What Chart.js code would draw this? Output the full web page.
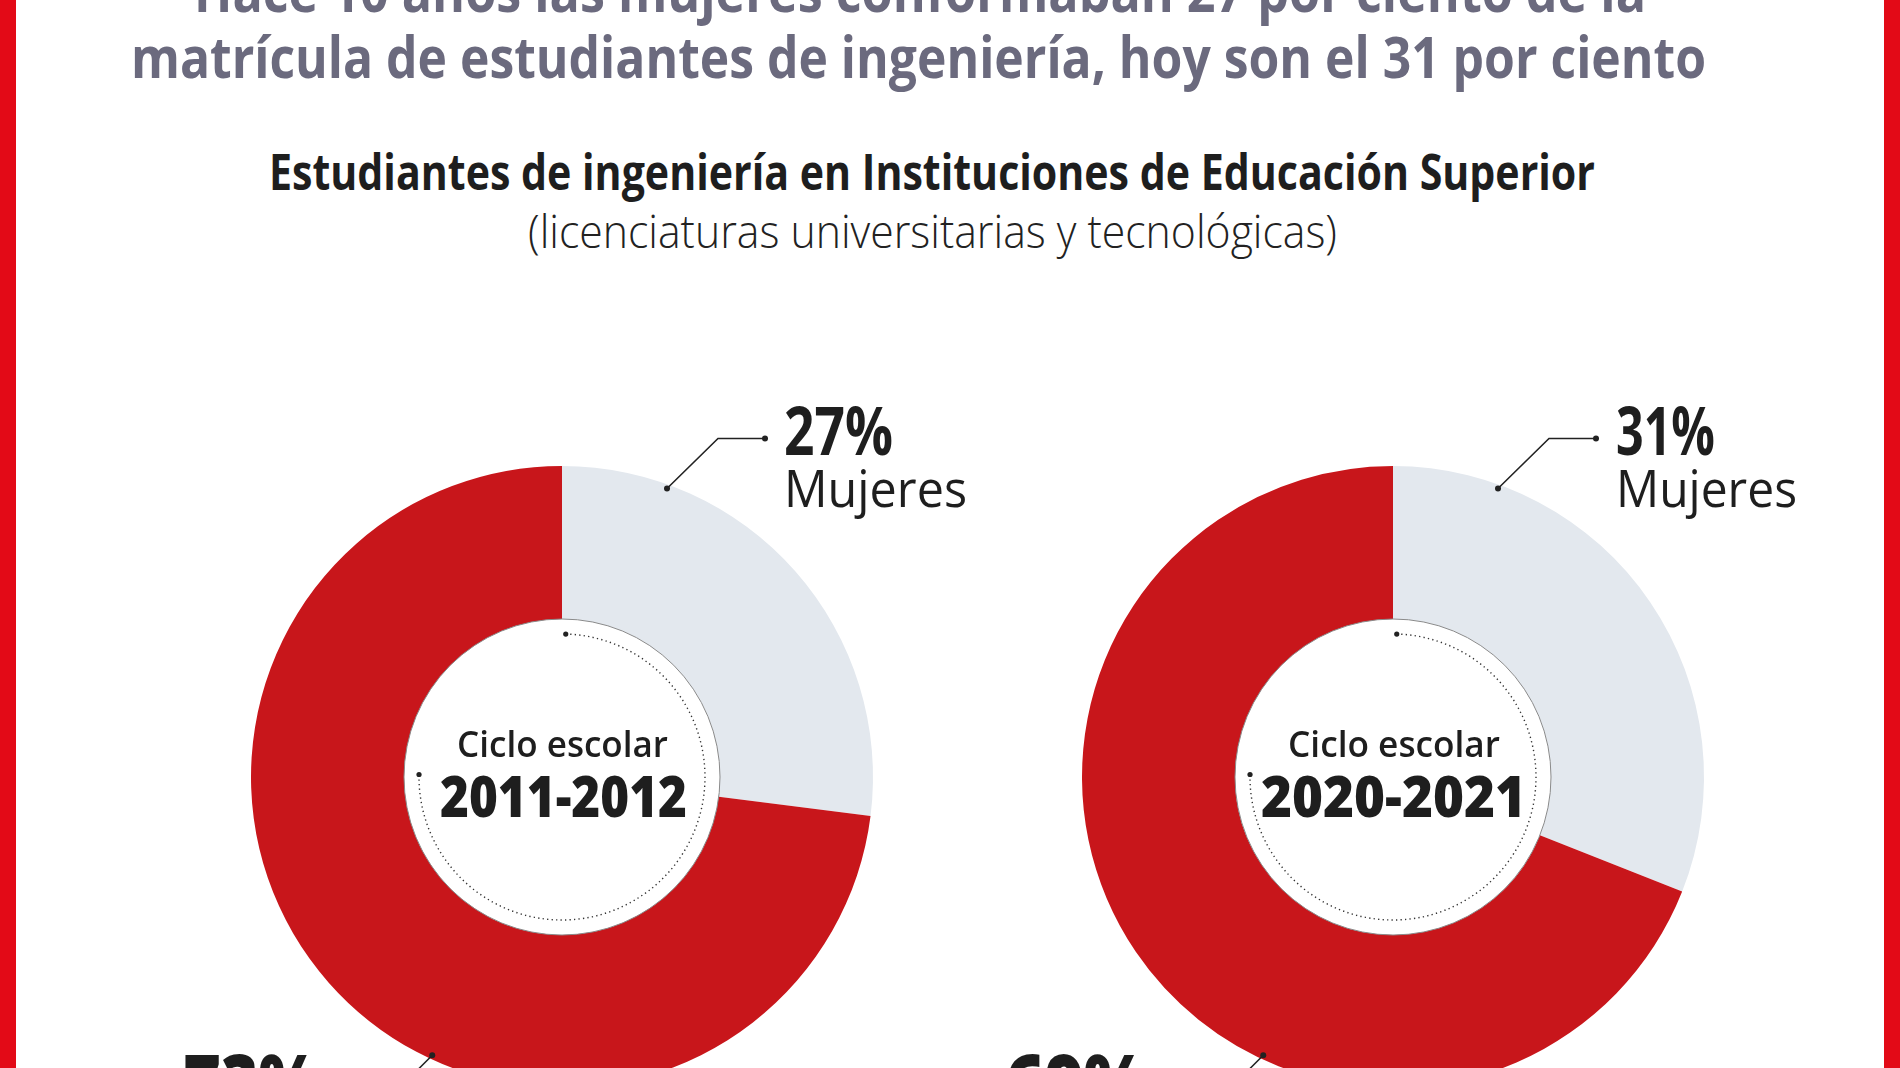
<!DOCTYPE html>
<html lang="es">
<head>
<meta charset="utf-8">
<title>Estudiantes de ingeniería</title>
<script src="https://cdn.jsdelivr.net/npm/chart.js@4.4.1/dist/chart.umd.min.js"></script>
<style>
  html,body{margin:0;padding:0;width:1900px;height:1068px;overflow:hidden;background:#fff;}
  body{position:relative;font-family:"Open Sans","Noto Sans",sans-serif;}
  .frame{position:absolute;top:0;height:1068px;width:16px;background:#e30a17;z-index:5;}
  .txt{position:absolute;left:0;top:0;white-space:nowrap;line-height:1;transform-origin:0 0;z-index:3;}
  .chart-box{position:absolute;top:367px;width:820px;height:820px;}
  .chart-box canvas{width:820px;height:820px;display:block;}
</style>
</head>
<body>
<div class="frame" style="left:0"></div>
<div class="frame" style="left:1884px"></div>

<div class="chart-box" style="left:152px"><canvas id="chart2011" width="820" height="820"></canvas></div>
<div class="chart-box" style="left:983px"><canvas id="chart2020" width="820" height="820"></canvas></div>

<script>
// data
const categories = ['Mujeres', 'Hombres'];
const cycles = ['2011-2012', '2020-2021'];
const shares2011 = [27, 73];
const shares2020 = [31, 69];

const sliceColors = ['#e3e8ee', '#c8161b'];
const FONT = '"Open Sans","Noto Sans",sans-serif';
const OUTER_R = 311, INNER_R = 158;

// dotted arc, inner outline and leader lines
const decorPlugin = {
  id: 'decor',
  afterDatasetsDraw(chart){
    const ctx = chart.ctx;
    const arcs = chart.getDatasetMeta(0).data;
    const women = arcs[0], men = arcs[1];
    const cx = women.x, cy = women.y;
    const rIn = women.innerRadius, rOut = women.outerRadius;
    const deg = Math.PI/180;
    ctx.save();
    // thin outline of the hole
    ctx.beginPath(); ctx.arc(cx, cy, rIn, 0, Math.PI*2);
    ctx.strokeStyle = '#8a8a8a'; ctx.lineWidth = 1; ctx.stroke();
    // dotted arc inside the hole
    const rd = rIn - 15;
    const a0 = -Math.PI/2 + 1.5*deg, a1 = Math.PI + 1*deg;
    ctx.beginPath(); ctx.arc(cx, cy, rd, a0, a1, false);
    ctx.setLineDash([1.3, 3.2]); ctx.lineWidth = 1.4; ctx.strokeStyle = '#333'; ctx.stroke();
    ctx.setLineDash([]);
    ctx.fillStyle = '#222';
    [a0, a1].forEach(a=>{ ctx.beginPath(); ctx.arc(cx + rd*Math.cos(a), cy + rd*Math.sin(a), 2.6, 0, Math.PI*2); ctx.fill(); });

    const leader = (angle, dx, dy, len)=>{
      const r = rOut - 4;
      const p0 = {x: cx + r*Math.cos(angle), y: cy + r*Math.sin(angle)};
      const p1 = {x: p0.x + dx, y: p0.y + dy};
      const p2 = {x: p1.x + len, y: p1.y};
      ctx.beginPath(); ctx.moveTo(p0.x, p0.y); ctx.lineTo(p1.x, p1.y); ctx.lineTo(p2.x, p2.y);
      ctx.strokeStyle = '#222'; ctx.lineWidth = 1.6; ctx.stroke();
      [p0, p2].forEach(p=>{ ctx.beginPath(); ctx.arc(p.x, p.y, 3, 0, Math.PI*2); ctx.fill(); });
    };
    leader(women.startAngle + 20*deg, 51, -50, 47);
    leader(men.endAngle - 155*deg, -50, 50, -47);
    ctx.restore();
  }
};

function makeChart(id, values){
  return new Chart(document.getElementById(id), {
    type: 'doughnut',
    data: {labels: categories, datasets: [{data: values, backgroundColor: sliceColors, borderWidth: 0, hoverOffset: 0}]},
    options: {
      responsive: false, animation: false, events: [],
      radius: OUTER_R, cutout: (INNER_R / OUTER_R * 100) + '%',
      layout: {padding: 0},
      plugins: {legend: {display: false}, tooltip: {enabled: false}}
    },
    plugins: [decorPlugin]
  });
}
makeChart('chart2011', shares2011);
makeChart('chart2020', shares2020);

// texts: x / baseline / fitted width (layout only)
const texts = [
  {t:'Hace 10 años las mujeres conformaban 27 por ciento de la', x:920, base:12, w:1452, size:58, weight:700, color:'#6b6a7e', align:'center'},
  {t:'matrícula de estudiantes de ingeniería, hoy son el 31 por ciento', x:918, base:78, w:1575, size:58, weight:700, color:'#6b6a7e', align:'center'},
  {t:'Estudiantes de ingeniería en Instituciones de Educación Superior', x:932, base:190, w:1326, size:50, weight:700, color:'#1e1e1e', align:'center'},
  {t:'(licenciaturas universitarias y tecnológicas)', x:932, base:248, w:809, size:46, weight:300, color:'#222', align:'center'},

  {t:shares2011[0]+'%', x:784, base:455, w:109, size:66, weight:700, color:'#1e1e1e', align:'left'},
  {t:categories[0], x:784, base:507, w:183, size:52, weight:400, color:'#1e1e1e', align:'left'},
  {t:'Ciclo escolar', x:562, base:757, w:211, size:36, weight:600, color:'#1e1e1e', align:'center'},
  {t:cycles[0], x:563, base:817, w:247, size:56, weight:800, color:'#1e1e1e', align:'center'},
  {t:shares2011[1]+'%', x:320, base:1113, w:137, size:82, weight:800, color:'#1e1e1e', align:'right'},

  {t:shares2020[0]+'%', x:1616, base:455, w:99, size:66, weight:700, color:'#1e1e1e', align:'left'},
  {t:categories[0], x:1616, base:507, w:181, size:52, weight:400, color:'#1e1e1e', align:'left'},
  {t:'Ciclo escolar', x:1394, base:757, w:212, size:36, weight:600, color:'#1e1e1e', align:'center'},
  {t:cycles[1], x:1393, base:817, w:265, size:56, weight:800, color:'#1e1e1e', align:'center'},
  {t:shares2020[1]+'%', x:1148, base:1113, w:143, size:82, weight:800, color:'#1e1e1e', align:'right'}
];

const els = texts.map(s=>{
  const el = document.createElement('div');
  el.className = 'txt';
  el.style.font = s.weight + ' ' + s.size + 'px ' + FONT;
  el.style.color = s.color;
  el.appendChild(document.createTextNode(s.t));
  const mark = document.createElement('i');
  mark.style.cssText = 'display:inline-block;width:0;height:0;vertical-align:baseline;';
  el.appendChild(mark);
  document.body.appendChild(el);
  return {el, mark, s};
});

function fitTexts(){
  els.forEach(({el, mark, s})=>{
    el.style.transform = 'none'; el.style.left = '0px'; el.style.top = '0px';
    const box = el.getBoundingClientRect();
    const baseOff = mark.getBoundingClientRect().top - box.top;
    const sx = s.w / box.width;
    const left = s.align === 'center' ? s.x - s.w/2 : (s.align === 'right' ? s.x - s.w : s.x);
    el.style.left = left + 'px';
    el.style.top = (s.base - baseOff) + 'px';
    el.style.transform = 'scaleX(' + sx + ')';
  });
}
fitTexts();
if(document.fonts && document.fonts.ready) document.fonts.ready.then(fitTexts);
</script>
</body>
</html>
